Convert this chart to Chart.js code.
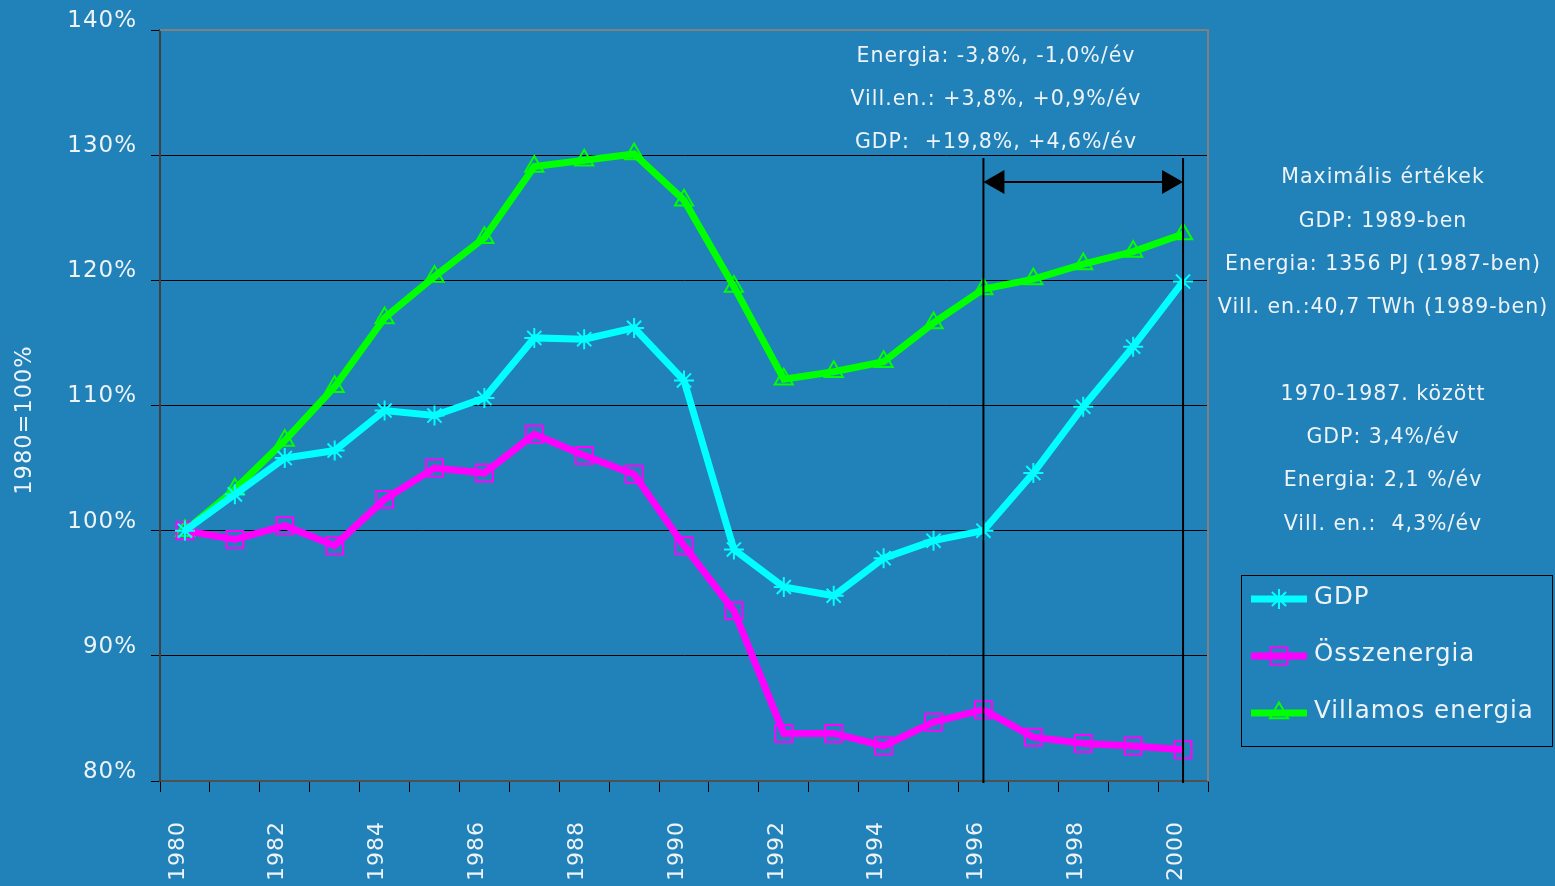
<!DOCTYPE html>
<html>
<head>
<meta charset="utf-8">
<script src="https://cdn.jsdelivr.net/npm/chart.js@4.4.1/dist/chart.umd.min.js"></script>
<style>
  html, body { margin: 0; padding: 0; background: #2181b9; }
  #wrap { width: 1555px; height: 886px; }
</style>
</head>
<body>
<div id="wrap"><canvas id="chart" width="1555" height="886"></canvas></div>
<script>
  // ---------------- data ----------------
  const years = ["1980","1981","1982","1983","1984","1985","1986","1987","1988","1989","1990",
                 "1991","1992","1993","1994","1995","1996","1997","1998","1999","2000"];
  const gdp = [100.0, 102.9, 105.8, 106.4, 109.6, 109.2, 110.6, 115.4, 115.3, 116.2, 112.0,
               98.5, 95.5, 94.8, 97.8, 99.2, 100.0, 104.6, 109.9, 114.7, 119.9];
  const energy = [100.0, 99.3, 100.4, 98.8, 102.5, 105.0, 104.6, 107.7, 106.0, 104.5, 98.8,
                  93.6, 83.8, 83.8, 82.8, 84.7, 85.7, 83.5, 83.0, 82.8, 82.5];
  const electricity = [100.0, 103.3, 107.2, 111.5, 117.0, 120.3, 123.4, 129.1, 129.6, 130.1, 126.4,
                       119.5, 112.1, 112.7, 113.5, 116.6, 119.3, 120.1, 121.3, 122.3, 123.7];
  const seriesNames = ["GDP", "Összenergia", "Villamos energia"];
  const yMin = 80, yMax = 140, yStep = 10;
  const yTitle = "1980=100%";
  const topNotes = ["Energia: -3,8%, -1,0%/év", "Vill.en.: +3,8%, +0,9%/év", "GDP:  +19,8%, +4,6%/év"];
  const sideNotes = ["Maximális értékek", "GDP: 1989-ben", "Energia: 1356 PJ (1987-ben)",
                     "Vill. en.:40,7 TWh (1989-ben)", "", "1970-1987. között", "GDP: 3,4%/év",
                     "Energia: 2,1 %/év", "Vill. en.:  4,3%/év"];
  const rangeFrom = "1996", rangeTo = "2000";

  // ---------------- styling ----------------
  const BG = "#2181b9";
  const TXT = "#eef3f7";
  const FONT = "DejaVu Sans";

  // background, frame, annotations, legend
  const extras = {
    id: "extras",
    beforeDraw(chart) {
      const ctx = chart.ctx;
      ctx.fillStyle = BG;
      ctx.fillRect(0, 0, chart.width, chart.height);
      ctx.letterSpacing = "1px"; // the original font runs wider than DejaVu
    },
    afterDraw(chart) {
      const ctx = chart.ctx;
      const a = chart.chartArea;
      const xs = chart.scales.x;
      ctx.save();

      // grey frame top/right
      ctx.strokeStyle = "#808080";
      ctx.lineWidth = 2;
      ctx.beginPath();
      ctx.moveTo(a.left, a.top); ctx.lineTo(a.right, a.top); ctx.lineTo(a.right, a.bottom);
      ctx.stroke();

      // period lines + arrow
      const x1 = xs.getPixelForValue(years.indexOf(rangeFrom));
      const x2 = xs.getPixelForValue(years.indexOf(rangeTo));
      ctx.strokeStyle = "#000";
      ctx.lineWidth = 2;
      ctx.beginPath();
      ctx.moveTo(x1, 158); ctx.lineTo(x1, a.bottom + 2);
      ctx.moveTo(x2, 158); ctx.lineTo(x2, a.bottom + 2);
      ctx.stroke();
      const ay = 182;
      ctx.beginPath();
      ctx.moveTo(x1 + 20, ay); ctx.lineTo(x2 - 20, ay);
      ctx.stroke();
      ctx.fillStyle = "#000";
      ctx.beginPath();
      ctx.moveTo(x1, ay); ctx.lineTo(x1 + 21, ay - 12); ctx.lineTo(x1 + 21, ay + 12); ctx.closePath();
      ctx.moveTo(x2, ay); ctx.lineTo(x2 - 21, ay - 12); ctx.lineTo(x2 - 21, ay + 12); ctx.closePath();
      ctx.fill();

      // text notes
      ctx.letterSpacing = "1px";
      ctx.fillStyle = TXT;
      ctx.textAlign = "center";
      ctx.textBaseline = "middle";
      ctx.font = "20.5px '" + FONT + "'";
      topNotes.forEach((t, i) => ctx.fillText(t, 996, 57 + i * 43));
      sideNotes.forEach((t, i) => { if (t) ctx.fillText(t, 1383, 178 + i * 43.3); });

      // y title
      ctx.save();
      ctx.translate(25, 420);
      ctx.rotate(-Math.PI / 2);
      ctx.font = "22.5px '" + FONT + "'";
      ctx.fillText(yTitle, 0, 0);
      ctx.restore();

      // legend
      ctx.strokeStyle = "#000";
      ctx.lineWidth = 1;
      ctx.strokeRect(1241.5, 575.5, 311, 171);
      chart.data.datasets.forEach((ds, i) => {
        const y = 599 + i * 57;
        ctx.strokeStyle = ds.borderColor;
        ctx.lineWidth = ds.borderWidth;
        ctx.beginPath(); ctx.moveTo(1251, y); ctx.lineTo(1307, y); ctx.stroke();
        ctx.lineWidth = ds.pointBorderWidth;
        ctx.fillStyle = "rgba(0,0,0,0)";
        Chart.helpers.drawPoint(ctx, { pointStyle: ds.pointStyle, rotation: 0, radius: ds.pointRadius, borderWidth: ds.pointBorderWidth }, 1279, y);
        ctx.fillStyle = TXT;
        ctx.textAlign = "left";
        ctx.font = "24.5px '" + FONT + "'";
        ctx.fillText(ds.label, 1314, y - 1);
      });
      ctx.restore();
    }
  };

  const mk = (label, data, color, style, radius) => ({
    label, data,
    borderColor: color,
    borderWidth: 7,
    pointStyle: style,
    pointRadius: radius,
    pointBorderWidth: 2,
    pointBorderColor: color,
    pointBackgroundColor: "rgba(0,0,0,0)",
    tension: 0,
    fill: false
  });

  new Chart(document.getElementById("chart"), {
    type: "line",
    data: {
      labels: years,
      datasets: [
        mk(seriesNames[0], gdp, "#00ffff", "star", 10),
        mk(seriesNames[1], energy, "#ff00ff", "rect", 12),
        mk(seriesNames[2], electricity, "#00ff00", "triangle", 10.5)
      ]
    },
    options: {
      responsive: false,
      animation: false,
      layout: { padding: { top: 30, right: 347, left: 0, bottom: 0 } },
      plugins: { legend: { display: false }, tooltip: { enabled: false } },
      scales: {
        x: {
          offset: true,
          grid: { offset: true, drawOnChartArea: false, drawTicks: true, tickLength: 11, color: "#000", lineWidth: 1 },
          border: { color: "#505050", width: 2 },
          ticks: {
            autoSkip: false, maxRotation: 90, minRotation: 90, padding: 29, labelOffset: -7,
            color: TXT, font: { family: FONT, size: 22 },
            callback: (v, i) => (i % 2 === 0 ? years[i] : "")
          },
          afterFit: s => { s.height = 105; }
        },
        y: {
          min: yMin, max: yMax,
          ticks: { stepSize: yStep, color: TXT, font: { family: FONT, size: 23 }, padding: 14, labelOffset: -9,
                   callback: v => v + "%" },
          grid: { color: "#000", lineWidth: 1, tickLength: 9 },
          border: { color: "#404040", width: 2 },
          afterFit: s => { s.width = 160; }
        }
      }
    },
    plugins: [extras]
  });
</script>
</body>
</html>
